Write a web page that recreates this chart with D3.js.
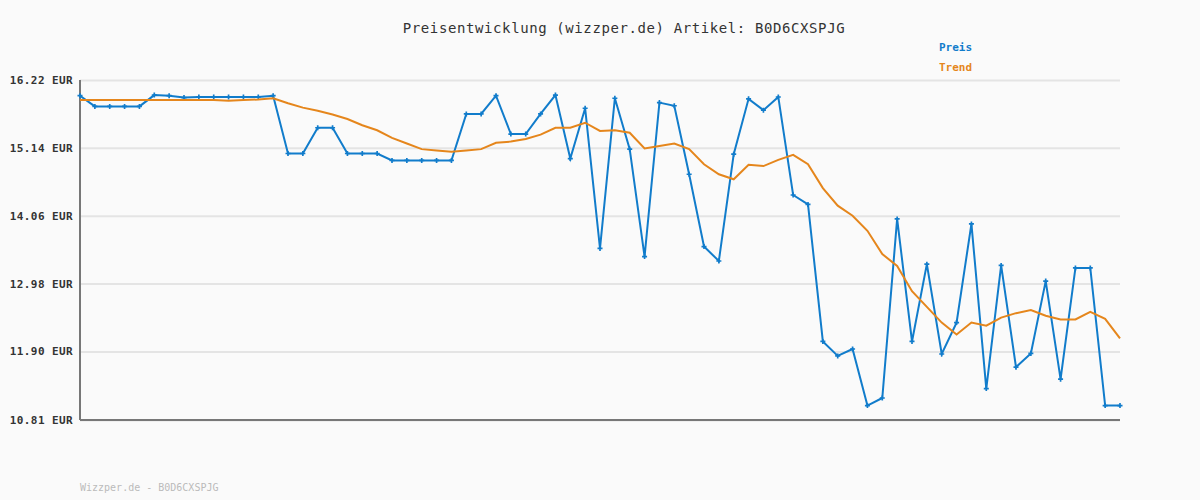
<!DOCTYPE html>
<html>
<head>
<meta charset="utf-8">
<script src="https://cdnjs.cloudflare.com/ajax/libs/d3/7.8.5/d3.min.js"></script>
<style>
  body { margin: 0; background: #fafafa; }
  svg { display: block; font-family: "DejaVu Sans Mono", monospace; }
  .title { font-size: 14px; letter-spacing: 0.6px; fill: #333; }
  .ylab { font-size: 11px; font-weight: bold; letter-spacing: 0.4px; fill: #333; }
  .legend { font-size: 11px; font-weight: bold; }
  .footer { font-size: 10px; fill: #bbb; }
</style>
</head>
<body>
<svg width="1200" height="500"></svg>
<script>
// prices, one per sample
const preis = [
  15.97, 15.80, 15.80, 15.80, 15.80, 15.98, 15.97, 15.94, 15.95, 15.95,
  15.95, 15.95, 15.95, 15.97, 15.05, 15.05, 15.46, 15.46, 15.05, 15.05,
  15.05, 14.94, 14.94, 14.94, 14.94, 14.94, 15.68, 15.68, 15.97, 15.36,
  15.36, 15.68, 15.98, 14.97, 15.77, 13.54, 15.93, 15.12, 13.41, 15.86,
  15.81, 14.72, 13.57, 13.34, 15.04, 15.92, 15.74, 15.95, 14.39, 14.24,
  12.06, 11.83, 11.94, 11.04, 11.16, 14.01, 12.06, 13.29, 11.86, 12.36,
  13.93, 11.31, 13.27, 11.65, 11.87, 13.02, 11.46, 13.23, 13.23, 11.04,
  11.04
];

const trend = [
  15.90, 15.90, 15.90, 15.90, 15.90, 15.90, 15.90, 15.90, 15.90, 15.90,
  15.89, 15.90, 15.91, 15.93, 15.85, 15.78, 15.73, 15.67, 15.60, 15.50,
  15.42, 15.30, 15.21, 15.12, 15.10, 15.08, 15.10, 15.12, 15.22, 15.24,
  15.28, 15.35, 15.46, 15.46, 15.54, 15.41, 15.42, 15.38, 15.13, 15.17,
  15.21, 15.12, 14.88, 14.72, 14.64, 14.87, 14.85, 14.95, 15.03, 14.88,
  14.50, 14.22, 14.06, 13.82, 13.45, 13.26, 12.86, 12.61, 12.36, 12.17,
  12.36, 12.31, 12.44, 12.51, 12.56, 12.47, 12.41, 12.41, 12.53, 12.42,
  12.11
];

const yTicks = [10.81, 11.90, 12.98, 14.06, 15.14, 16.22];
const seriesNames = ['Preis', 'Trend'];
const seriesColors = ['#117ccb', '#e5861c'];

const svg = d3.select('svg');
const plotLeft = 80, plotRight = 1120, plotTop = 80, plotBottom = 420;

svg.append('rect')
  .attr('width', 1200)
  .attr('height', 500)
  .attr('fill', '#fafafa');

const xScale = d3.scaleLinear()
  .domain([0, preis.length - 1])
  .range([plotLeft, plotRight]);

const yScale = d3.scaleLinear()
  .domain([10.81, 16.22])
  .range([plotBottom, plotTop]);

// horizontal grid
svg.append('g')
  .attr('transform', `translate(${plotLeft}, 0)`)
  .call(d3.axisLeft(yScale)
    .tickValues(yTicks)
    .tickSize(-(plotRight - plotLeft))
    .tickFormat('')
  )
  .call(g => g.select('.domain').remove())
  .call(g => g.selectAll('line').attr('stroke', '#e4e4e4').attr('stroke-width', 2));

// y labels
svg.append('g')
  .selectAll('text')
  .data(yTicks)
  .enter()
  .append('text')
  .attr('class', 'ylab')
  .attr('x', 73)
  .attr('y', (d) => yScale(d) + 4)
  .attr('text-anchor', 'end')
  .text((d) => `${d.toFixed(2)} EUR`);

// axis lines
svg.append('line')
  .attr('x1', plotLeft).attr('x2', plotLeft)
  .attr('y1', plotTop).attr('y2', plotBottom)
  .attr('stroke', '#777').attr('stroke-width', 2);

svg.append('line')
  .attr('x1', plotLeft).attr('x2', plotRight)
  .attr('y1', plotBottom).attr('y2', plotBottom)
  .attr('stroke', '#777').attr('stroke-width', 2);

const line = d3.line()
  .x((d, i) => xScale(i))
  .y((d) => yScale(d));

svg.append('path')
  .datum(preis)
  .attr('fill', 'none')
  .attr('stroke', seriesColors[0])
  .attr('stroke-width', 2)
  .attr('d', line);

svg.append('g')
  .selectAll('path')
  .data(preis)
  .enter()
  .append('path')
  .attr('transform', (d, i) => `translate(${xScale(i)}, ${yScale(d)})`)
  .attr('d', d3.symbol(d3.symbolCross, 14))
  .attr('fill', seriesColors[0]);

svg.append('path')
  .datum(trend)
  .attr('fill', 'none')
  .attr('stroke', seriesColors[1])
  .attr('stroke-width', 2)
  .attr('d', line);

// title
svg.append('text')
  .attr('class', 'title')
  .attr('x', 624)
  .attr('y', 33)
  .attr('text-anchor', 'middle')
  .text('Preisentwicklung (wizzper.de) Artikel: B0D6CXSPJG');

// legend
svg.append('g')
  .selectAll('text')
  .data(seriesNames)
  .enter()
  .append('text')
  .attr('class', 'legend')
  .attr('x', 939)
  .attr('y', (d, i) => 51 + i * 20)
  .attr('fill', (d, i) => seriesColors[i])
  .text((d) => d);

svg.append('text')
  .attr('class', 'footer')
  .attr('x', 80)
  .attr('y', 491)
  .text('Wizzper.de - B0D6CXSPJG');
</script>
</body>
</html>
